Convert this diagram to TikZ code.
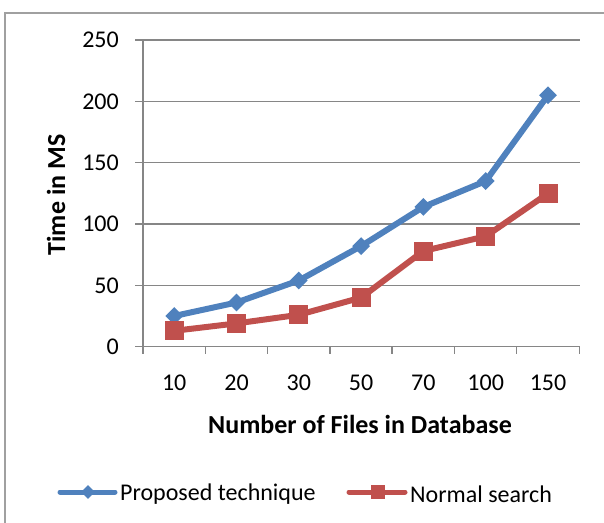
\documentclass[tikz,border=0pt]{standalone}
\usepackage{fontspec}
\setmainfont{Carlito}
\usepackage{tikz}
\usepackage[dvipsnames]{xcolor}
\usetikzlibrary{shapes.geometric}

\definecolor{propblue}{RGB}{79,129,189}
\definecolor{normred}{RGB}{192,80,77}
\definecolor{gridgray}{RGB}{134,134,134}
\definecolor{framegray}{RGB}{160,160,160}

\tikzset{
    gridline/.style={draw=gridgray, line width=1.5pt},
    propline/.style={draw=propblue, line width=6pt, line join=round},
    normline/.style={draw=normred, line width=6pt, line join=round},
    propmark/.style={diamond, fill=propblue, inner sep=0pt, minimum size=18pt},
    normmark/.style={rectangle, fill=normred, inner sep=0pt, minimum size=19pt},
    ticklabel/.style={font=\fontsize{24}{28}\selectfont, inner sep=0pt},
    axistitle/.style={font=\fontsize{26}{30}\selectfont\bfseries, inner sep=0pt},
    legendtext/.style={font=\fontsize{24}{28}\selectfont, inner sep=0pt, anchor=west}
}

\begin{document}
\begin{tikzpicture}[x=1pt, y=-1pt]
    \useasboundingbox (0,0) rectangle (604,522);
    \draw[framegray, line width=1.5pt] (5,540) -- (5,13) -- (620,13);

    % grid lines, 50 units apart
    \draw[gridline] (135,40) -- (579.6,40);
    \draw[gridline] (135,101.3) -- (579.6,101.3);
    \draw[gridline] (135,162.7) -- (579.6,162.7);
    \draw[gridline] (135,224) -- (579.6,224);
    \draw[gridline] (135,285.3) -- (579.6,285.3);

    % axes
    \draw[gridline] (143,40) -- (143,354);
    \draw[gridline] (135,346.7) -- (579.6,346.7);
    \draw[gridline] (205.3,346.7) -- (205.3,354);
    \draw[gridline] (267.6,346.7) -- (267.6,354);
    \draw[gridline] (329.9,346.7) -- (329.9,354);
    \draw[gridline] (392.1,346.7) -- (392.1,354);
    \draw[gridline] (454.4,346.7) -- (454.4,354);
    \draw[gridline] (516.7,346.7) -- (516.7,354);
    \draw[gridline] (579.6,346.7) -- (579.6,354);

    \node[ticklabel, anchor=east] (y0) at (119,346.7) {0};
    \node[ticklabel, anchor=east] (y50) at (119,285.3) {50};
    \node[ticklabel, anchor=east] (y100) at (119,224) {100};
    \node[ticklabel, anchor=east] (y150) at (119,162.7) {150};
    \node[ticklabel, anchor=east] (y200) at (119,101.3) {200};
    \node[ticklabel, anchor=east] (y250) at (119,40) {250};

    \node[ticklabel] (x10) at (174.2,383) {10};
    \node[ticklabel] (x20) at (236.5,383) {20};
    \node[ticklabel] (x30) at (298.8,383) {30};
    \node[ticklabel] (x50) at (361.1,383) {50};
    \node[ticklabel] (x70) at (423.4,383) {70};
    \node[ticklabel] (x100) at (485.7,383) {100};
    \node[ticklabel] (x150) at (548,383) {150};

    \node[axistitle, rotate=90] (ytitle) at (56,195) {Time in MS};
    \node[axistitle] (xtitle) at (360,424) {Number of Files in Database};

    % proposed technique
    \coordinate (p1) at (174.2,316.0);
    \coordinate (p2) at (236.5,302.5);
    \coordinate (p3) at (298.8,280.5);
    \coordinate (p4) at (361.1,246.1);
    \coordinate (p5) at (423.4,206.9);
    \coordinate (p6) at (485.7,181.1);
    \coordinate (p7) at (548,95.2);
    % normal search
    \coordinate (n1) at (174.2,330.8);
    \coordinate (n2) at (236.5,323.4);
    \coordinate (n3) at (298.8,314.8);
    \coordinate (n4) at (361.1,297.6);
    \coordinate (n5) at (423.4,251.0);
    \coordinate (n6) at (485.7,236.3);
    \coordinate (n7) at (548,193.4);

    \draw[propline] (p1) -- (p2) -- (p3) -- (p4) -- (p5) -- (p6) -- (p7);
    \draw[normline] (n1) -- (n2) -- (n3) -- (n4) -- (n5) -- (n6) -- (n7);

    \node[propmark] (pm1) at (p1) {};
    \node[propmark] (pm2) at (p2) {};
    \node[propmark] (pm3) at (p3) {};
    \node[propmark] (pm4) at (p4) {};
    \node[propmark] (pm5) at (p5) {};
    \node[propmark] (pm6) at (p6) {};
    \node[propmark] (pm7) at (p7) {};
    \node[normmark] (nm1) at (n1) {};
    \node[normmark] (nm2) at (n2) {};
    \node[normmark] (nm3) at (n3) {};
    \node[normmark] (nm4) at (n4) {};
    \node[normmark] (nm5) at (n5) {};
    \node[normmark] (nm6) at (n6) {};
    \node[normmark] (nm7) at (n7) {};

    % legend
    \coordinate (pl1) at (60,492);
    \coordinate (pl2) at (115,492);
    \coordinate (nl1) at (349,492);
    \coordinate (nl2) at (405,492);
    \draw[propline, line width=5pt, line cap=round] (pl1) -- (pl2);
    \node[propmark, minimum size=14pt] (plm) at (88,492) {};
    \node[legendtext] (pltext) at (120,494) {Proposed technique};
    \draw[normline, line width=5pt, line cap=round] (nl1) -- (nl2);
    \node[normmark, minimum size=14pt] (nlm) at (378,492) {};
    \node[legendtext] (nltext) at (410,494) {Normal search};
\end{tikzpicture}
\end{document}
